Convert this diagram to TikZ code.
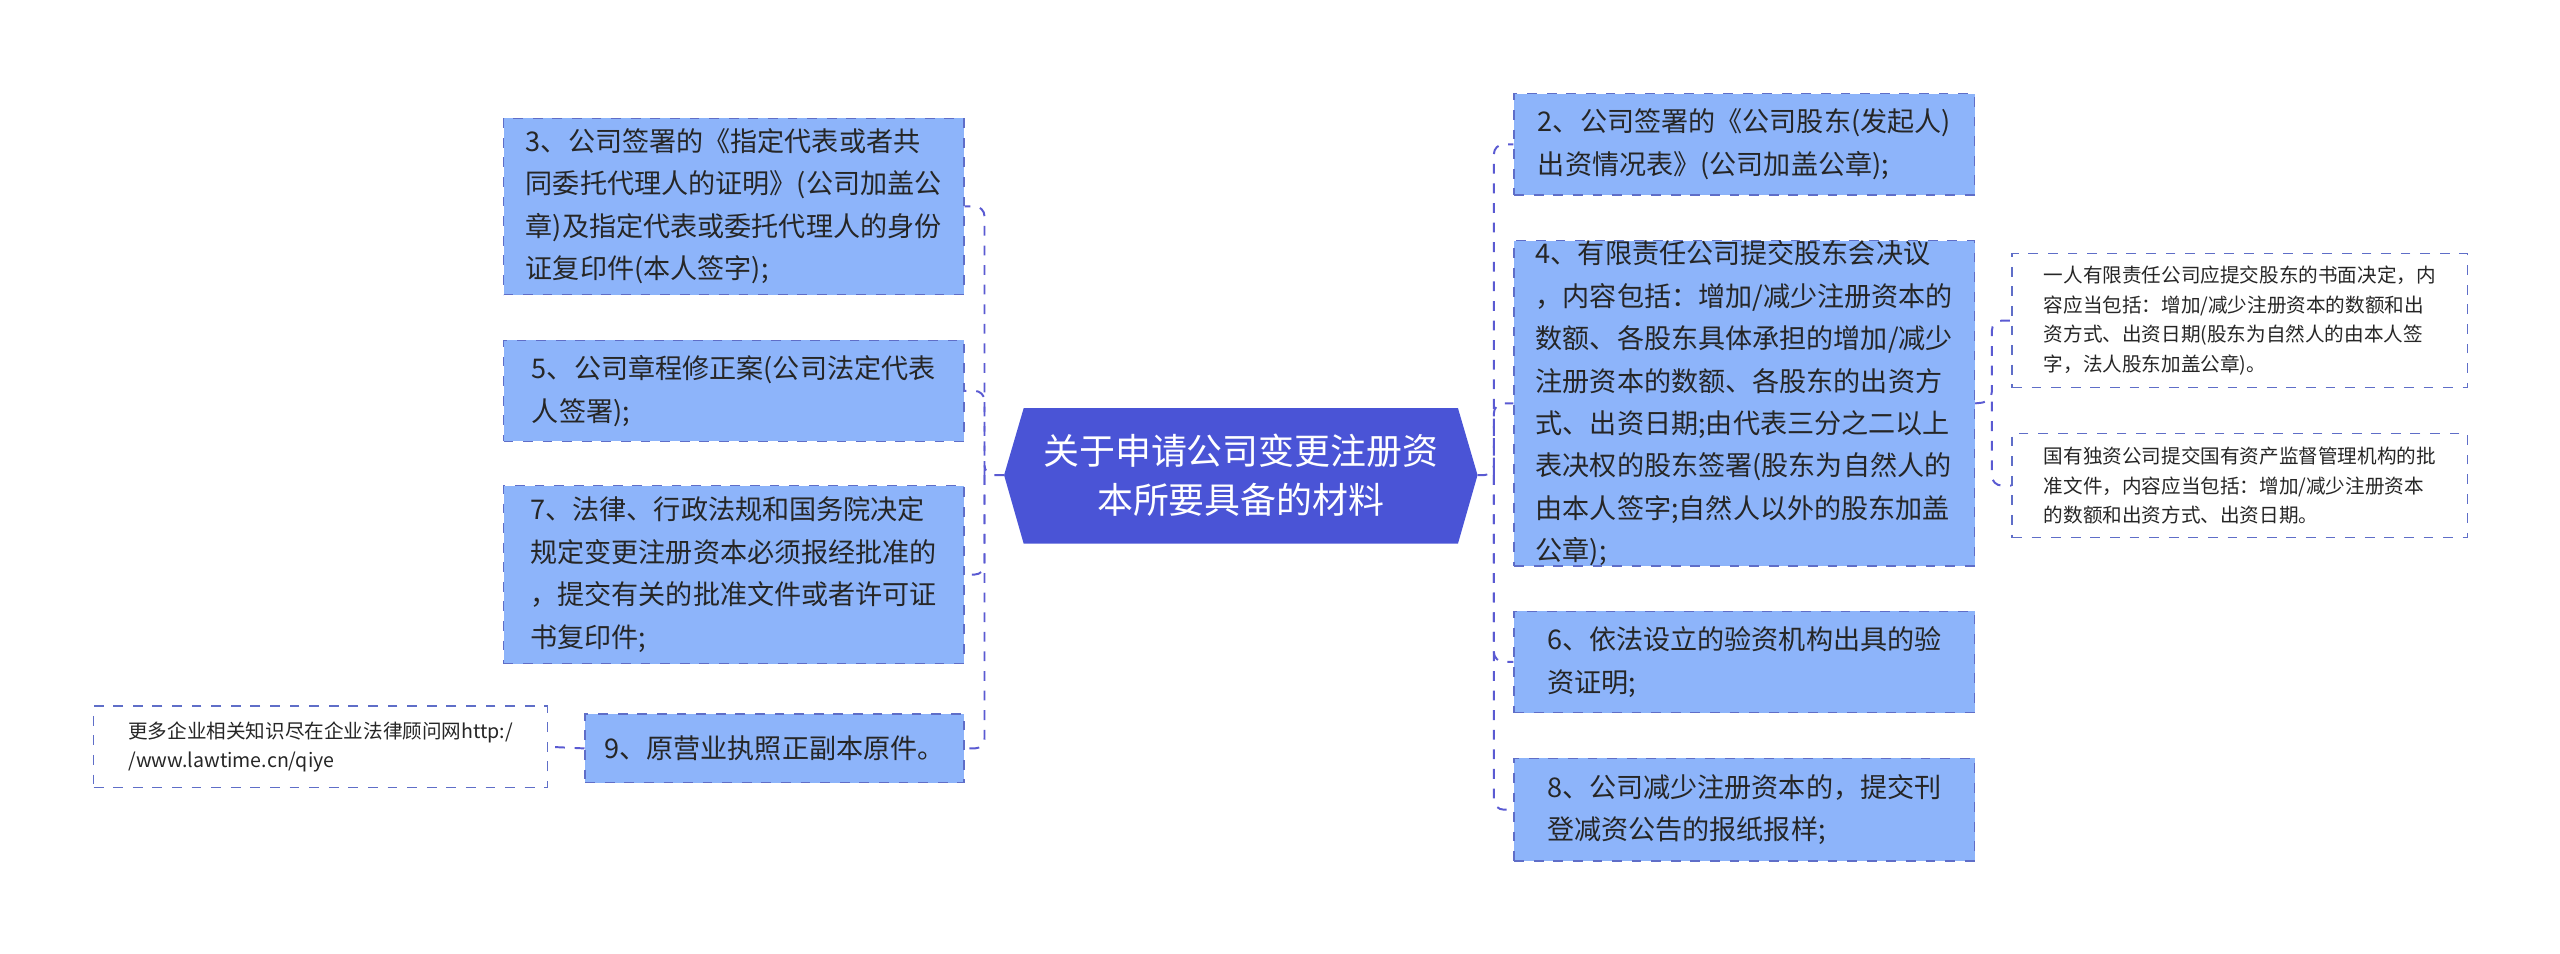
\documentclass[tikz,border=0pt]{standalone}
\usepackage{fontspec}
\setmainfont{Noto Sans CJK SC}
\usetikzlibrary{shapes.geometric}
\definecolor{boxfill}{RGB}{141,180,250}
\definecolor{boxline}{RGB}{95,110,200}
\definecolor{cfill}{RGB}{74,84,214}
\definecolor{lnk}{RGB}{90,90,210}
\tikzset{
  bx/.style={draw=boxline,dashed,fill=boxfill,anchor=north west,align=left,inner xsep=5pt,inner ysep=0pt,
    font=\fontsize{8.3}{13}\selectfont,text=black!85},
  nt/.style={draw=boxline,dashed,fill=white,anchor=north west,align=left,inner xsep=4pt,inner ysep=0pt,
    font=\fontsize{6}{9}\selectfont,text=black!85},
  lk/.style={draw=lnk,dashed,line width=0.6pt,rounded corners=3pt}
}
\begin{document}
\begin{tikzpicture}[x=0.5pt,y=-0.5pt]
\useasboundingbox (0,0) rectangle (1568,584);
\node[regular polygon,regular polygon sides=6,shape aspect=1,draw=none,fill=cfill,minimum width=0pt,inner sep=0pt] at (-1000,-1000) {};
\path[fill=cfill] (615,291) -- (627,250) -- (893,250) -- (905,291) -- (893,333) -- (627,333) -- cycle;
\node[text=white,align=center,font=\fontsize{11}{15}\selectfont] (c) at (760,291) {关于申请公司变更注册资\\本所要具备的材料};
\coordinate (cl) at (615,291);
\coordinate (cr) at (905,291);
% left
\node[bx,minimum width=141pt,minimum height=54pt] (b3) at (308,72) {3、公司签署的《指定代表或者共\\同委托代理人的证明》(公司加盖公\\章)及指定代表或委托代理人的身份\\证复印件(本人签字);};
\node[bx,minimum width=141pt,minimum height=31pt] (b5) at (308,208) {5、公司章程修正案(公司法定代表\\人签署);};
\node[bx,minimum width=141pt,minimum height=54.5pt] (b7) at (308,297) {7、法律、行政法规和国务院决定\\规定变更注册资本必须报经批准的\\，提交有关的批准文件或者许可证\\书复印件;};
\node[bx,minimum width=116pt,minimum height=21pt] (b9) at (358,437) {9、原营业执照正副本原件。};
\node[nt,minimum width=139pt,minimum height=25pt] (n9) at (57,432) {更多企业相关知识尽在企业法律顾问网http:/\\/www.lawtime.cn/qiye};
% right
\node[bx,minimum width=141pt,minimum height=31pt] (b2) at (927,57) {2、公司签署的《公司股东(发起人)\\出资情况表》(公司加盖公章);};
\node[bx,minimum width=141pt,minimum height=99pt] (b4) at (927,147) {4、有限责任公司提交股东会决议\\，内容包括：增加/减少注册资本的\\数额、各股东具体承担的增加/减少\\注册资本的数额、各股东的出资方\\式、出资日期;由代表三分之二以上\\表决权的股东签署(股东为自然人的\\由本人签字;自然人以外的股东加盖\\公章);};
\node[bx,minimum width=141pt,minimum height=31pt] (b6) at (927,374) {6、依法设立的验资机构出具的验\\资证明;};
\node[bx,minimum width=141pt,minimum height=31.5pt] (b8) at (927,464) {8、公司减少注册资本的，提交刊\\登减资公告的报纸报样;};
\node[nt,minimum width=139.5pt,minimum height=41pt] (n1) at (1232,155) {一人有限责任公司应提交股东的书面决定，内\\容应当包括：增加/减少注册资本的数额和出\\资方式、出资日期(股东为自然人的由本人签\\字，法人股东加盖公章)。};
\node[nt,minimum width=139.5pt,minimum height=32pt] (n2) at (1232,265) {国有独资公司提交国有资产监督管理机构的批\\准文件，内容应当包括：增加/减少注册资本\\的数额和出资方式、出资日期。};
% connectors
\draw[lk] (cl) -- (603,291) |- (b3.east);
\draw[lk] (603,291) |- (b5.east);
\draw[lk] (603,291) |- (b7.east);
\draw[lk] (603,291) |- (b9.east);
\draw[lk] (b9.west) -- (n9.east);
\draw[lk] (cr) -- (915,291) |- (b2.west);
\draw[lk] (915,291) |- (b4.west);
\draw[lk] (915,291) |- (b6.west);
\draw[lk] (915,291) |- (b8.west);
\draw[lk] (b4.east) -- (1220,246) |- (n1.west);
\draw[lk] (1220,246) |- (n2.west);
\end{tikzpicture}
\end{document}
